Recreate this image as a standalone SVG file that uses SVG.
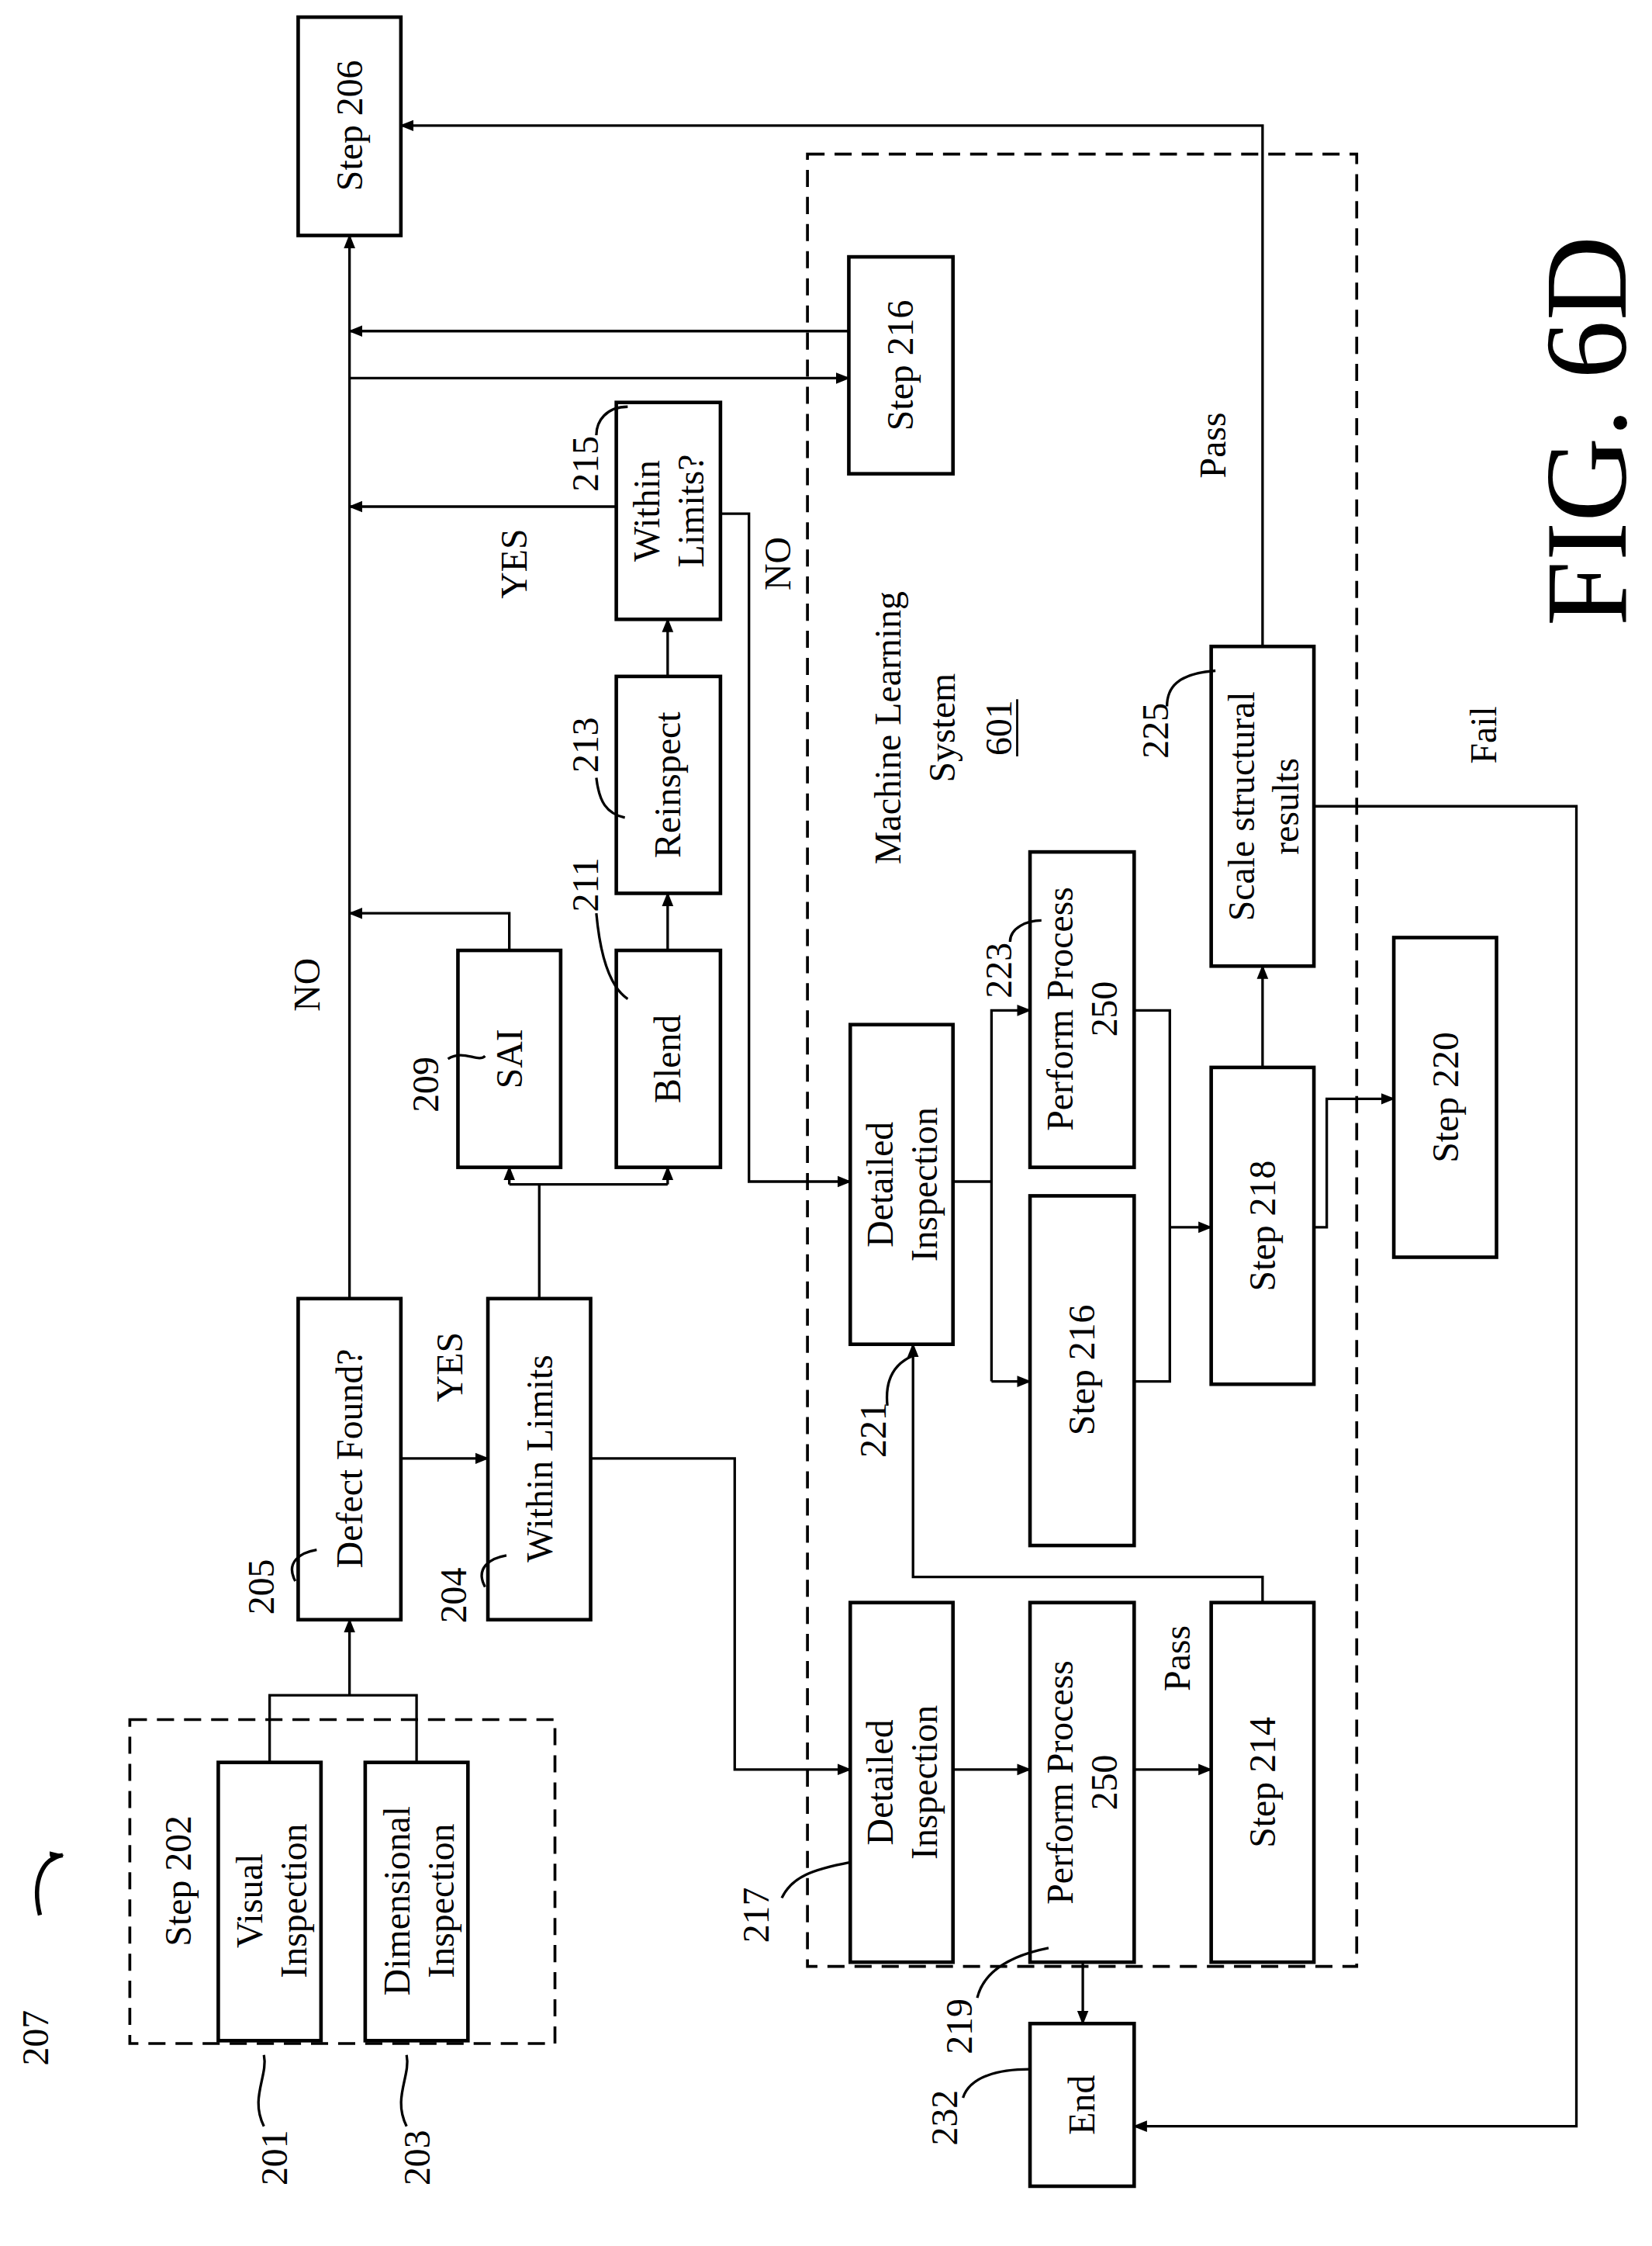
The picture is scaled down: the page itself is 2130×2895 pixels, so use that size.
<svg xmlns="http://www.w3.org/2000/svg" width="2130" height="2895" viewBox="0 0 2130 2895">
<defs>
<marker id="ah" markerWidth="10" markerHeight="10" refX="9" refY="5" orient="auto" markerUnits="userSpaceOnUse"><path d="M0,1 L10,5 L0,9 z" fill="#000"/></marker>
<style>
.b{fill:#fff;stroke:#000;stroke-width:2.5}
.d{fill:none;stroke:#000;stroke-width:2;stroke-dasharray:12,7}
.c{fill:none;stroke:#000;stroke-width:1.8}
.a{marker-end:url(#ah)}
text{font-family:"Liberation Serif",serif;font-size:26px;fill:#000;text-anchor:middle;dominant-baseline:central}
</style>
</defs>
<rect width="2130" height="2895" fill="#fff"/>
<g transform="scale(1.8394)">
<g id="ml"><rect class="d" x="566" y="108" width="385" height="1270"/>
<text transform="translate(622,510) rotate(-90)">Machine Learning</text>
<text transform="translate(660,510) rotate(-90)">System</text>
<text transform="translate(700,510) rotate(-90)">601</text>
<line x1="713" y1="490" x2="713" y2="530" stroke="#000" stroke-width="1.5"/></g>
<g id="s202"><rect class="d" x="91" y="1205" width="298" height="227"/>
<text transform="translate(125,1318) rotate(-90)">Step 202</text></g>
<g id="n206"><rect class="b" x="209" y="12" width="72" height="153"/><text transform="translate(245,88) rotate(-90)">Step 206</text></g>
<g id="n216a"><rect class="b" x="595" y="180" width="73" height="152"/><text transform="translate(631,256) rotate(-90)">Step 216</text></g>
<g id="n215"><rect class="b" x="432" y="282" width="73" height="152"/><text transform="translate(453,358) rotate(-90)">Within</text><text transform="translate(484,358) rotate(-90)">Limits?</text><text transform="translate(410,325) rotate(-90)">215</text></g>
<g id="n213"><rect class="b" x="432" y="474" width="73" height="152"/><text transform="translate(468,550) rotate(-90)">Reinspect</text><text transform="translate(410,522) rotate(-90)">213</text></g>
<g id="n211"><rect class="b" x="432" y="666" width="73" height="152"/><text transform="translate(468,742) rotate(-90)">Blend</text><text transform="translate(410,620) rotate(-90)">211</text></g>
<g id="n209"><rect class="b" x="321" y="666" width="72" height="152"/><text transform="translate(357,742) rotate(-90)">SAI</text><text transform="translate(298,760) rotate(-90)">209</text></g>
<g id="n205"><rect class="b" x="209" y="910" width="72" height="225"/><text transform="translate(245,1022) rotate(-90)">Defect Found?</text><text transform="translate(183,1112) rotate(-90)">205</text></g>
<g id="n204"><rect class="b" x="342" y="910" width="72" height="225"/><text transform="translate(378,1022) rotate(-90)">Within Limits</text><text transform="translate(318,1118) rotate(-90)">204</text></g>
<g id="n201"><rect class="b" x="153" y="1235" width="72" height="195"/><text transform="translate(175,1332) rotate(-90)">Visual</text><text transform="translate(206,1332) rotate(-90)">Inspection</text><text transform="translate(192,1512) rotate(-90)">201</text></g>
<g id="n203"><rect class="b" x="256" y="1235" width="72" height="195"/><text transform="translate(278,1332) rotate(-90)">Dimensional</text><text transform="translate(309,1332) rotate(-90)">Inspection</text><text transform="translate(292,1512) rotate(-90)">203</text></g>
<g id="n221"><rect class="b" x="596" y="718" width="72" height="224"/><text transform="translate(617,830) rotate(-90)">Detailed</text><text transform="translate(648,830) rotate(-90)">Inspection</text><text transform="translate(612,1002) rotate(-90)">221</text></g>
<g id="n223"><rect class="b" x="722" y="597" width="73" height="221"/><text transform="translate(743,707) rotate(-90)">Perform Process</text><text transform="translate(774,707) rotate(-90)">250</text><text transform="translate(700,680) rotate(-90)">223</text></g>
<g id="n216b"><rect class="b" x="722" y="838" width="73" height="245"/><text transform="translate(758,960) rotate(-90)">Step 216</text></g>
<g id="n218"><rect class="b" x="849" y="748" width="72" height="222"/><text transform="translate(885,859) rotate(-90)">Step 218</text></g>
<g id="n225"><rect class="b" x="849" y="453" width="72" height="224"/><text transform="translate(870,565) rotate(-90)">Scale structural</text><text transform="translate(901,565) rotate(-90)">results</text><text transform="translate(810,512) rotate(-90)">225</text></g>
<g id="n220"><rect class="b" x="977" y="657" width="72" height="224"/><text transform="translate(1013,769) rotate(-90)">Step 220</text></g>
<g id="n217"><rect class="b" x="596" y="1123" width="72" height="252"/><text transform="translate(617,1249) rotate(-90)">Detailed</text><text transform="translate(648,1249) rotate(-90)">Inspection</text><text transform="translate(530,1342) rotate(-90)">217</text></g>
<g id="n219"><rect class="b" x="722" y="1123" width="73" height="252"/><text transform="translate(743,1249) rotate(-90)">Perform Process</text><text transform="translate(774,1249) rotate(-90)">250</text><text transform="translate(672,1420) rotate(-90)">219</text></g>
<g id="n214"><rect class="b" x="849" y="1123" width="72" height="252"/><text transform="translate(885,1249) rotate(-90)">Step 214</text></g>
<g id="n232"><rect class="b" x="722" y="1418" width="73" height="114"/><text transform="translate(758,1475) rotate(-90)">End</text><text transform="translate(662,1484) rotate(-90)">232</text></g>
<g id="labels">
<text transform="translate(215,690) rotate(-90)">NO</text>
<text transform="translate(315,958) rotate(-90)">YES</text>
<text transform="translate(360,395) rotate(-90)">YES</text>
<text transform="translate(545,395) rotate(-90)">NO</text>
<text transform="translate(850,312) rotate(-90)">Pass</text>
<text transform="translate(1040,515) rotate(-90)">Fail</text>
<text transform="translate(825,1162) rotate(-90)">Pass</text>
<text transform="translate(25,1428) rotate(-90)">207</text>
<text style="font-size:82px" transform="translate(1112,302) rotate(-90)">FIG. 6D</text>
</g>
<g id="connectors">
<path class="c a" d="M245,910 V165"/>
<path class="c a" d="M357,666 V640 H245"/>
<path class="c a" d="M432,355 H245"/>
<path class="c a" d="M595,232 H245"/>
<path class="c a" d="M245,265 H595"/>
<path class="c a" d="M468,474 V434"/>
<path class="c a" d="M468,666 V626"/>
<path class="c" d="M378,910 V830 M357,830 H468"/>
<path class="c a" d="M357,830 V818"/>
<path class="c a" d="M468,830 V818"/>
<path class="c a" d="M281,1022 H342"/>
<path class="c" d="M189,1235 V1188 H292 V1235"/>
<path class="c a" d="M245,1188 V1135"/>
<path class="c a" d="M414,1022 H515 V1240 H596"/>
<path class="c a" d="M505,360 H525 V828 H596"/>
<path class="c" d="M668,828 H695"/>
<path class="c a" d="M695,968 V708 H722"/>
<path class="c a" d="M695,968 H722"/>
<path class="c" d="M795,708 H820 V968 H795"/>
<path class="c a" d="M820,860 H849"/>
<path class="c a" d="M885,748 V677"/>
<path class="c a" d="M921,860 H930 V770 H977"/>
<path class="c a" d="M885,453 V88 H281"/>
<path class="c a" d="M921,565 H1105 V1490 H795"/>
<path class="c a" d="M668,1240 H722"/>
<path class="c a" d="M795,1240 H849"/>
<path class="c a" d="M759,1375 V1418"/>
<path class="c a" d="M885,1123 V1105 H640 V942"/>
<path class="c a" style="stroke-width:3" d="M28,1342 C22,1318 30,1302 44,1300"/>
<path class="c" d="M207,1108 C200,1095 210,1088 222,1086"/>
<path class="c" d="M340,1112 C333,1099 343,1092 355,1090"/>
<path class="c" d="M314,742 C325,735 335,745 340,740"/>
<path class="c" d="M418,640 C420,662 425,690 440,700"/>
<path class="c" d="M418,545 C420,562 425,570 438,573"/>
<path class="c" d="M418,305 C418,295 425,285 440,285"/>
<path class="c" d="M818,495 C818,482 825,472 852,470"/>
<path class="c" d="M708,660 C708,650 720,645 730,645"/>
<path class="c" d="M622,985 C620,965 628,955 640,950"/>
<path class="c" d="M548,1330 C555,1315 570,1310 596,1305"/>
<path class="c" d="M685,1400 C690,1380 710,1370 735,1365"/>
<path class="c" d="M675,1470 C680,1455 700,1450 722,1450"/>
<path class="c" d="M185,1490 C175,1470 188,1455 185,1440"/>
<path class="c" d="M285,1490 C275,1470 288,1455 285,1440"/>
</g>
</g>
</svg>
